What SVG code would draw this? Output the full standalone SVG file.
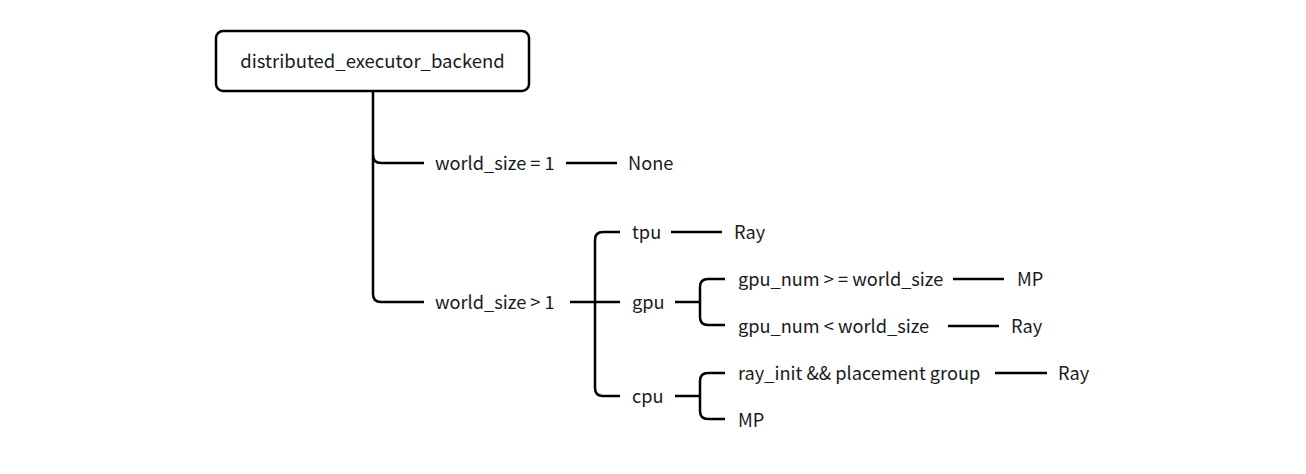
<svg xmlns="http://www.w3.org/2000/svg" width="1306" height="474" viewBox="0 0 1306 474">
<style>
.t{font-family:"Noto Sans CJK SC","Noto Sans",sans-serif;font-size:18.2px;fill:#1a1a1a}
.c{fill:none;stroke:#000;stroke-width:2.5;stroke-linecap:butt;stroke-linejoin:round}
</style>
<rect width="1306" height="474" fill="#fff"/>
<g id="connectors" class="c">
<path d="M373,91 V294 Q373,302 381,302 H424"/>
<path d="M373,155 Q373,163 381,163 H424"/>
<path d="M566,163 H617"/>
<path d="M570,302 H620"/>
<path d="M620,232 H603 Q595,232 595,240 V388 Q595,396 603,396 H620"/>
<path d="M671,232 H722"/>
<path d="M675,302 H700"/>
<path d="M725,279 H708 Q700,279 700,287 V317 Q700,325 708,325 H725"/>
<path d="M675,396 H700"/>
<path d="M725,373 H708 Q700,373 700,381 V411 Q700,419 708,419 H725"/>
<path d="M953,279 H1004"/>
<path d="M948,326 H999"/>
<path d="M995,373 H1047"/>
</g>
<g id="root"><rect x="216" y="31" width="313" height="60" rx="7" fill="#fff" stroke="#000" stroke-width="2.5"/><text class="t" x="372.5" y="68" text-anchor="middle" style="font-size:18.5px">distributed_executor_backend</text></g>
<g id="ws1"><text class="t" x="435" y="170">world_size = 1</text></g>
<g id="none"><text class="t" x="628" y="170">None</text></g>
<g id="wsgt1"><text class="t" x="435" y="309">world_size &gt; 1</text></g>
<g id="tpu"><text class="t" x="632" y="239">tpu</text></g>
<g id="tpu-ray"><text class="t" x="734" y="239">Ray</text></g>
<g id="gpu"><text class="t" x="632" y="309">gpu</text></g>
<g id="gpu-ge"><text class="t" x="738" y="286">gpu_num &gt; = world_size</text></g>
<g id="gpu-mp"><text class="t" x="1017" y="286">MP</text></g>
<g id="gpu-lt"><text class="t" x="738" y="333">gpu_num &lt; world_size</text></g>
<g id="gpu-ray"><text class="t" x="1011" y="333">Ray</text></g>
<g id="cpu"><text class="t" x="632" y="403">cpu</text></g>
<g id="cpu-ray-init"><text class="t" x="738" y="380">ray_init &amp;&amp; placement group</text></g>
<g id="cpu-ray"><text class="t" x="1058" y="380">Ray</text></g>
<g id="cpu-mp"><text class="t" x="738" y="427">MP</text></g>
</svg>
